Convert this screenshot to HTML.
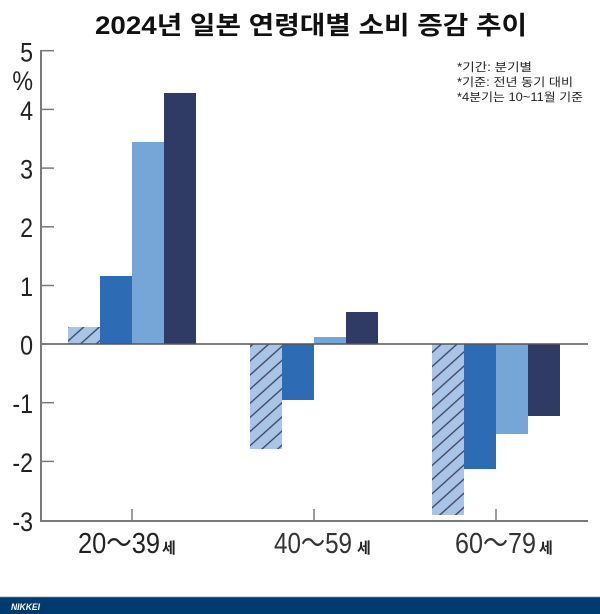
<!DOCTYPE html>
<html>
<head>
<meta charset="utf-8">
<style>
  html,body{margin:0;padding:0;background:#fff;}
  body{width:600px;height:614px;overflow:hidden;}
  svg{display:block;}
  .ax{font-family:"Liberation Sans","Noto Sans CJK KR",sans-serif;}
</style>
</head>
<body>
<svg width="600" height="614" viewBox="0 0 600 614" xmlns="http://www.w3.org/2000/svg">
  <defs>
    <pattern id="hatch" patternUnits="userSpaceOnUse" width="10.5" height="10.5" patternTransform="rotate(-42)">
      <rect width="10.5" height="10.5" fill="#a9c4e6"/>
      <line x1="0" y1="5" x2="10.5" y2="5" stroke="#38415e" stroke-width="1.3"/>
    </pattern>
  </defs>
  <rect width="600" height="614" fill="#fff"/>

  <!-- Title -->
  <text x="95" y="34" font-family="'Liberation Sans','Noto Sans CJK KR',sans-serif" font-weight="bold" font-size="25" fill="#111" textLength="432" lengthAdjust="spacingAndGlyphs">2024년 일본 연령대별 소비 증감 추이</text>

  <!-- Notes -->
  <g font-family="'Liberation Sans','Noto Sans CJK KR',sans-serif" font-size="11.5" fill="#222">
    <text x="457" y="71" textLength="75" lengthAdjust="spacingAndGlyphs">*기간: 분기별</text>
    <text x="457" y="86" textLength="116" lengthAdjust="spacingAndGlyphs">*기준: 전년 동기 대비</text>
    <text x="457" y="101" textLength="126" lengthAdjust="spacingAndGlyphs">*4분기는 10~11월 기준</text>
  </g>

  <!-- Bars group 1 -->
  <rect x="68" y="327" width="32" height="17" fill="url(#hatch)"/>
  <rect x="100" y="276" width="32" height="68" fill="#2d6bb5"/>
  <rect x="132" y="142" width="32" height="202" fill="#76a6d7"/>
  <rect x="164" y="93" width="32" height="251" fill="#303b65"/>

  <!-- Bars group 2 -->
  <rect x="250" y="344" width="32" height="105" fill="url(#hatch)"/>
  <rect x="282" y="344" width="32" height="56" fill="#2d6bb5"/>
  <rect x="314" y="337" width="32" height="7" fill="#76a6d7"/>
  <rect x="346" y="312" width="32" height="32" fill="#303b65"/>

  <!-- Bars group 3 -->
  <rect x="432" y="344" width="32" height="171" fill="url(#hatch)"/>
  <rect x="464" y="344" width="32" height="125" fill="#2d6bb5"/>
  <rect x="496" y="344" width="32" height="90" fill="#76a6d7"/>
  <rect x="528" y="344" width="32" height="72" fill="#303b65"/>

  <!-- Zero line -->
  <line x1="41" y1="344" x2="588" y2="344" stroke="#555" stroke-width="1.5"/>

  <!-- Y axis -->
  <line x1="41" y1="50" x2="41" y2="522" stroke="#7a7a7a" stroke-width="2"/>
  <g stroke="#7a7a7a" stroke-width="1.5">
    <line x1="41" y1="50.7" x2="54" y2="50.7"/>
    <line x1="41" y1="109.4" x2="54" y2="109.4"/>
    <line x1="41" y1="168.1" x2="54" y2="168.1"/>
    <line x1="41" y1="226.8" x2="54" y2="226.8"/>
    <line x1="41" y1="285.5" x2="54" y2="285.5"/>
    <line x1="41" y1="402.7" x2="54" y2="402.7"/>
    <line x1="41" y1="461.4" x2="54" y2="461.4"/>
  </g>

  <!-- X axis -->
  <line x1="40" y1="521" x2="588" y2="521" stroke="#7a7a7a" stroke-width="2"/>
  <g stroke="#7a7a7a" stroke-width="1.5">
    <line x1="132" y1="509" x2="132" y2="521"/>
    <line x1="314" y1="509" x2="314" y2="521"/>
    <line x1="496" y1="509" x2="496" y2="521"/>
  </g>

  <!-- Y labels -->
  <g transform="translate(33,0) scale(0.86,1)" font-family="'Liberation Sans',sans-serif" font-size="27" fill="#222" text-anchor="end">
    <text x="0" y="61.5">5</text>
    <text x="0" y="90">%</text>
    <text x="0" y="120">4</text>
    <text x="0" y="178.5">3</text>
    <text x="0" y="237">2</text>
    <text x="0" y="296">1</text>
    <text x="0" y="354.5">0</text>
    <text x="0" y="413">-1</text>
    <text x="0" y="472">-2</text>
    <text x="0" y="531">-3</text>
  </g>

  <!-- Category labels -->
  <g font-family="'Liberation Sans','Noto Sans CJK KR',sans-serif" font-size="29" fill="#222">
    <text x="78" y="553" textLength="82" lengthAdjust="spacingAndGlyphs">20～39</text>
    <text x="274" y="553" textLength="78" lengthAdjust="spacingAndGlyphs" fill="#333">40～59</text>
    <text x="455" y="553" textLength="81" lengthAdjust="spacingAndGlyphs" fill="#333">60～79</text>
  </g>
  <g font-family="'Noto Sans CJK KR',sans-serif" font-size="15" font-weight="bold" fill="#222">
    <text x="162" y="553">세</text>
    <text x="357" y="553">세</text>
    <text x="539" y="553">세</text>
  </g>

  <!-- Footer bar -->
  <rect x="0" y="597" width="600" height="17" fill="#003b6f"/>
  <line x1="0" y1="597" x2="600" y2="597" stroke="#6f8fb0" stroke-width="0.8"/>
  <text x="11" y="610" font-family="'Liberation Sans',sans-serif" font-size="9.5" font-weight="bold" font-style="italic" fill="#fff" textLength="29" lengthAdjust="spacingAndGlyphs">NIKKEI</text>
</svg>
</body>
</html>
